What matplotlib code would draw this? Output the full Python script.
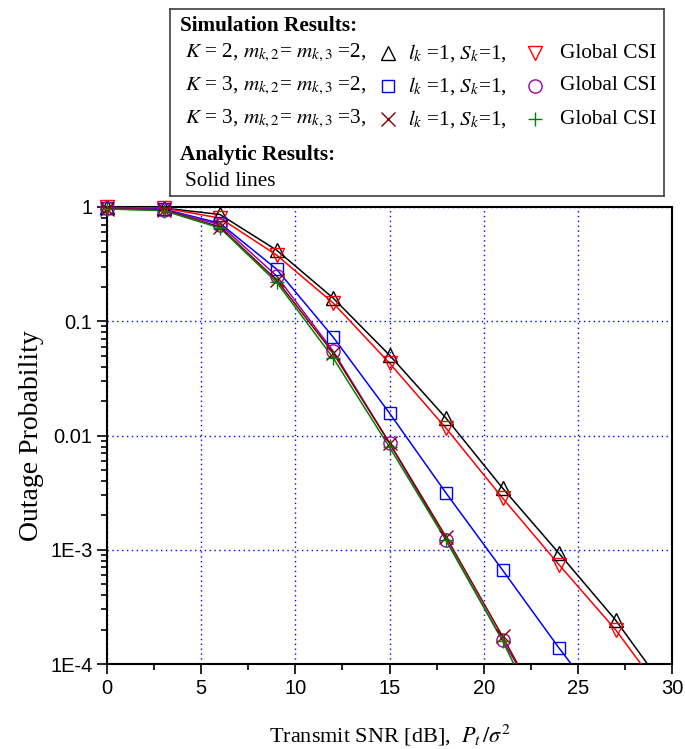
import numpy as np
import matplotlib
matplotlib.use('Agg')
import matplotlib.pyplot as plt
from matplotlib.ticker import FixedLocator, LogLocator, NullFormatter, MultipleLocator

plt.rcParams['mathtext.fontset'] = 'stix'

# simulated points (every 3 dB)
snr = [0, 3, 6, 9, 12, 15, 18, 21, 24, 27]
k2_partial = [0.99, 0.98, 0.86, 0.42, 0.16, 0.0505, 0.0142, 0.00347, 0.00093, 0.000243]
k2_global = [0.99, 0.98, 0.80, 0.38, 0.145, 0.043, 0.0116, 0.00284, 0.00074, 0.000200]
k3m2_partial = [0.98, 0.96, 0.72, 0.286, 0.073, 0.0157, 0.00314, 0.000665, 0.000138]
k3m2_global = [0.98, 0.95, 0.70, 0.25, 0.055, 0.0086, 0.00122, 0.000162]
k3m3_partial = [0.965, 0.94, 0.67, 0.23, 0.053, 0.0086, 0.0013, 0.000175]
k3m3_global = [0.96, 0.93, 0.655, 0.22, 0.048, 0.0079, 0.00121, 0.00016]

# snr where each analytic curve leaves the plot at 1E-4
end_snr = [28.7, 28.35, 24.65, 21.75, 21.8, 21.6]

ytick_vals = [1e-4, 1e-3, 1e-2, 1e-1, 1]
ytick_labels = ['1E-4', '1E-3', '0.01', '0.1', '1']

# data, colour, marker, marker size
series = [
    (k2_partial, 'black', '^', 9.5),
    (k2_global, '#ff0000', 'v', 10),
    (k3m2_partial, '#0000ff', 's', 8),
    (k3m2_global, '#a000a0', 'o', 9.5),
    (k3m3_partial, '#800000', 'x', 10),
    (k3m3_global, '#008000', '+', 10),
]

fig = plt.figure(figsize=(6.85, 7.49), dpi=100)
W, H = 685., 749.
ax = fig.add_axes([107/W, 1-664/H, 565/W, 457/H])

ymin = 1e-4
for (vals, col, mk, ms), xe in zip(series, end_snr):
    xs = snr[:len(vals)]
    # analytic curve (solid line)
    ax.plot(list(xs) + [xe], list(vals) + [ymin], '-', color=col, lw=1.1, zorder=3)
    ax.plot(xs, vals, linestyle='none', marker=mk, ms=ms,
            mfc='none', mec=col, mew=1.0, zorder=4, clip_on=False)

ax.set_yscale('log')
ax.set_xlim(0, 30)
ax.set_ylim(1e-4, 1)
ax.xaxis.set_major_locator(MultipleLocator(5))
ax.xaxis.set_minor_locator(MultipleLocator(2.5))
ax.yaxis.set_major_locator(FixedLocator(ytick_vals))
ax.set_yticklabels(ytick_labels)
ax.yaxis.set_minor_locator(LogLocator(base=10, subs=np.arange(2, 10)))
ax.yaxis.set_minor_formatter(NullFormatter())
ax.tick_params(which='both', direction='out', top=False, right=False, width=1.2,
               labelsize=14.5)
ax.tick_params(which='major', length=7)
ax.tick_params(which='minor', length=4.5)
for lab in ax.get_xticklabels() + ax.get_yticklabels():
    lab.set_family('Liberation Sans')
for sp in ax.spines.values():
    sp.set_linewidth(1.5)

ax.grid(True, which='major', color='#0000ff', linestyle=(0, (1, 2.5)), lw=1.0)

ax.set_xlabel(r'Transmit SNR [dB],  $P_t\,/\sigma^2$', family='Liberation Serif',
              fontsize=16, labelpad=18)
ax.set_ylabel('Outage Probability', family='Liberation Serif', fontsize=20, labelpad=4)

# legend box in pixel coordinates
lg = fig.add_axes([170/W, 1-196/H, 494/W, 187/H])
lg.set_xlim(170, 664)
lg.set_ylim(196, 9)
lg.set_xticks([])
lg.set_yticks([])
for sp in lg.spines.values():
    sp.set_linewidth(1.2)
    sp.set_color('#404040')

fs = 15.3
tkw = dict(family='Liberation Serif', fontsize=fs, va='center', ha='left')
lg.text(180, 26, 'Simulation Results:', fontweight='bold', **tkw)
rows = [(53, '2', '2'), (86, '3', '2'), (119, '3', '3')]
for (yy, kk, mm), (s1, s2) in zip(rows, [(series[0], series[1]), (series[2], series[3]),
                                          (series[4], series[5])]):
    lg.text(185, yy, r'$K$ = %s, $m_{k,2}$= $m_{k,3}$ =%s,' % (kk, mm), **tkw)
    lg.plot([388], [yy], marker=s1[2], ms=s1[3], mfc='none', mec=s1[1], mew=1.0, ls='none')
    lg.text(408, yy, r'$l_k$ =1, $S_k$=1,', **tkw)
    lg.plot([535], [yy], marker=s2[2], ms=s2[3], mfc='none', mec=s2[1], mew=1.0, ls='none')
    lg.text(560, yy, 'Global CSI', **tkw)
lg.text(180, 155, 'Analytic Results:', fontweight='bold', **tkw)
lg.text(185, 182, 'Solid lines', **tkw)

fig.savefig('out.png', dpi=100)
